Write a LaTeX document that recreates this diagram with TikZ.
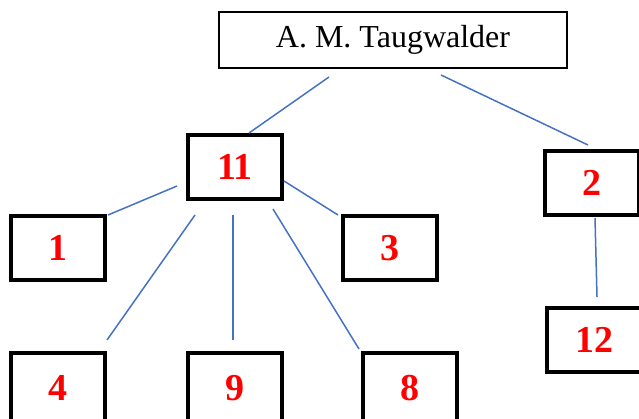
\documentclass[tikz,border=0pt]{standalone}
\usepackage{fontspec}
\setmainfont{Liberation Serif}
\definecolor{linkblue}{RGB}{68,114,196}
\definecolor{numred}{RGB}{255,0,0}
\begin{document}
\begin{tikzpicture}[x=1pt,y=-1pt,
  topbox/.style={draw=black,line width=2pt,minimum width=348pt,minimum height=56pt,inner sep=0pt,
    font=\fontsize{32}{38}\selectfont},
  numbox/.style={draw=black,line width=4pt,minimum width=94pt,minimum height=64pt,inner sep=0pt,
    text=numred,font=\fontsize{38}{44}\selectfont\bfseries},
  lowbox/.style={numbox,minimum height=70pt},
  link/.style={draw=linkblue,line width=1.5pt}]
\useasboundingbox (0,0) rectangle (639,418);
\node[topbox] (top) at (393,39.5) {A. M. Taugwalder};
\node[numbox] (n11) at (235,167) {11};
\node[numbox] (n2) at (592,183) {2};
\node[numbox] (n1) at (58,248) {1};
\node[numbox] (n3) at (390,248) {3};
\node[numbox] (n12) at (594,339.5) {12};
\node[lowbox] (n4) at (58,388) {4};
\node[lowbox] (n9) at (235,388) {9};
\node[lowbox] (n8) at (410,388) {8};
% connector end points (lines stop short of the boxes)
\coordinate (a1) at (329,77);  \coordinate (b1) at (249,133);
\coordinate (a2) at (441,75);  \coordinate (b2) at (588,145);
\coordinate (a3) at (177,186); \coordinate (b3) at (108,215);
\coordinate (a4) at (284,181); \coordinate (b4) at (338,215);
\coordinate (a5) at (195,215); \coordinate (b5) at (107,340);
\coordinate (a6) at (233,215); \coordinate (b6) at (233,340);
\coordinate (a7) at (273,209); \coordinate (b7) at (359,349);
\coordinate (a8) at (595,218); \coordinate (b8) at (597,297);
\draw[link] (a1) -- (b1);
\draw[link] (a2) -- (b2);
\draw[link] (a3) -- (b3);
\draw[link] (a4) -- (b4);
\draw[link] (a5) -- (b5);
\draw[link] (a6) -- (b6);
\draw[link] (a7) -- (b7);
\draw[link] (a8) -- (b8);
\end{tikzpicture}
\end{document}
